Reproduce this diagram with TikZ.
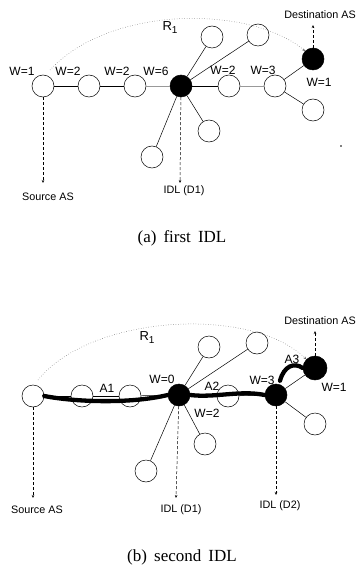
\documentclass[tikz,border=0pt]{standalone}
\usepackage{fontspec}
\setmainfont{Liberation Serif}
\newfontfamily\labf{Liberation Sans}
\usetikzlibrary{arrows.meta}
\newcommand{\rone}{R\raisebox{-3pt}{\fontsize{10}{12}\selectfont 1}}
\begin{document}
\begin{tikzpicture}[x=1pt,y=-1pt,
 circ/.style={circle,draw,line width=0.5pt,minimum size=22pt,inner sep=0pt,fill=white},
 blk/.style={circ,fill=black},
 lab/.style={font=\labf\fontsize{10.8}{12}\selectfont,inner sep=0pt},
 wl/.style={font=\labf\fontsize{12}{14}\selectfont,inner sep=0pt},
 rl/.style={font=\labf\fontsize{13}{15}\selectfont,inner sep=0pt},
 edge/.style={line width=0.5pt},
 dedge/.style={line width=0.9pt},
 gedge/.style={line width=0.9pt,black!40},
 darr/.style={densely dashed,line width=0.5pt,-{Stealth[length=3pt,width=2.5pt]}},
 arcl/.style={dotted,black!60,line width=0.5pt,-{Stealth[length=3pt,width=2.5pt]}},
 thk/.style={line width=4.3pt,line cap=round},
 capt/.style={font=\fontsize{17}{20}\selectfont,inner sep=0pt}
]
\useasboundingbox (0,0) rectangle (359,572);

% ---------- panel (a) ----------
\node[circ] (a1) at (43,86) {};
\node[circ] (a2) at (89,86) {};
\node[circ] (a3) at (135,86) {};
\node[blk]  (ad1) at (181,86) {};
\node[circ] (a5) at (229,86) {};
\node[circ] (a6) at (275,86) {};
\node[blk]  (adst) at (313,59) {};
\node[circ] (a7) at (313,110) {};
\node[circ] (au1) at (212,37) {};
\node[circ] (au2) at (258,35) {};
\node[circ] (al1) at (209,131) {};
\node[circ] (al2) at (152,157) {};

\draw[edge] (a1) -- (a2);
\draw[dedge] (a2) -- (a3);
\draw[gedge] (a3) -- (ad1);
\draw[dedge] (ad1) -- (a5);
\draw[gedge] (a5) -- (a6);
\draw[edge] (a6) -- (adst);
\draw[edge] (a6) -- (a7);
\draw[edge] (ad1) -- (au1);
\draw[edge] (ad1) -- (au2);
\draw[edge] (ad1) -- (al1);
\draw[edge] (ad1) -- (al2);

\node[wl] (aw1) at (22,71) {W=1};
\node[wl] (aw2) at (68,71) {W=2};
\node[wl] (aw3) at (117,71) {W=2};
\node[wl] (aw4) at (156,71) {W=6};
\node[wl] (aw5) at (223,70) {W=2};
\node[wl] (aw6) at (263,70) {W=3};
\node[wl] (aw7) at (319,82) {W=1};
\node[rl] (ar) at (170,28) {\rone};

\node[lab] (asrc) at (48,197) {Source AS};
\node[lab] (aidl) at (184,191) {IDL (D1)};
\node[lab] (adstl) at (320,15) {Destination AS};
\coordinate (asrct) at (43,183);
\coordinate (aidlt) at (180,183);
\coordinate (adstt) at (313,25);
\draw[darr] (a1) -- (asrct);
\draw[darr] (ad1) -- (aidlt);
\draw[darr] (adst) -- (adstt);

\coordinate (aarcs) at (50,70);
\draw[arcl] (aarcs) .. controls (110,5) and (250,5) .. (adst.north west);

\fill (341,146) circle (0.8pt);
\node[capt] (capa) at (182,238) {(a)\, first\, IDL};

% ---------- panel (b) ----------
\node[circ] (b1) at (33,396) {};
\node[circ] (b2) at (82,396) {};
\node[circ] (b3) at (130,396) {};
\node[blk]  (bd1) at (179,395) {};
\node[circ] (b5) at (228,396) {};
\node[blk]  (bd2) at (276,395) {};
\node[blk,minimum size=24pt]  (bdst) at (315,368) {};
\node[circ] (b7) at (315,424) {};
\node[circ] (bu1) at (209,347) {};
\node[circ] (bu2) at (257,343) {};
\node[circ] (bl1) at (205,444) {};
\node[circ] (bl2) at (146,471) {};

\draw[edge] (b1) -- (b2);
\draw[edge] (b2) -- (b3);
\draw[edge] (b3) -- (bd1);
\draw[edge] (bd1) -- (b5);
\draw[edge] (b5) -- (bd2);
\draw[edge] (bd2) -- (bdst);
\draw[edge] (bd2) -- (b7);
\draw[edge] (bd1) -- (bu1);
\draw[edge] (bd1) -- (bu2);
\draw[edge] (bd1) -- (bl1);
\draw[edge] (bd1) -- (bl2);

% thick IDL path segments
\draw[thk] (b1.east) .. controls (75,402) and (130,404) .. (bd1.west);
\draw[thk] (bd1.east) .. controls (215,398) and (240,390) .. (bd2.west);
\draw[thk] (bd2.north) ++(4,-3) coordinate (b3s) .. controls (284,366) and (294,362) .. (bdst.west);

\node[wl] (ba1) at (107,388) {A1};
\node[wl] (ba2) at (212,386) {A2};
\node[wl] (ba3) at (292,359) {A3};
\node[wl] (bw0) at (162,379) {W=0};
\node[wl] (bw2) at (207,413) {W=2};
\node[wl] (bw3) at (262,380) {W=3};
\node[wl] (bw1) at (334,387) {W=1};
\node[rl] (br) at (147,338) {\rone};

\node[lab] (bsrc) at (37,510) {Source AS};
\node[lab] (bidl1) at (181,510) {IDL (D1)};
\node[lab] (bidl2) at (280,506) {IDL (D2)};
\node[lab] (bdstl) at (320,321) {Destination AS};
\coordinate (bsrct) at (33,498);
\coordinate (bidl1t) at (176,498);
\coordinate (bidl2t) at (276,495);
\coordinate (bdstt) at (315,331);
\draw[darr] (b1) -- (bsrct);
\draw[darr] (bd1) -- (bidl1t);
\draw[darr] (bd2) -- (bidl2t);
\draw[darr] (bdst) -- (bdstt);

\coordinate (barcs) at (38,380);
\draw[arcl] (barcs) .. controls (90,315) and (250,305) .. (bdst.north west);

\node[capt] (capb) at (182,557) {(b)\, second\, IDL};
\end{tikzpicture}
\end{document}
